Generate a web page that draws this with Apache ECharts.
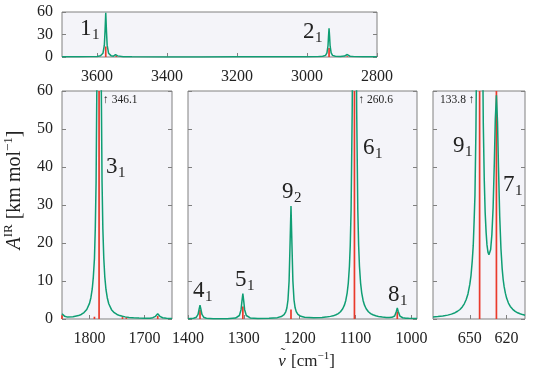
<!DOCTYPE html>
<html>
<head>
<meta charset="utf-8">
<script src="https://cdn.jsdelivr.net/npm/echarts@6.0.0/dist/echarts.min.js"></script>
<style>
  html, body { margin: 0; padding: 0; background: #fff; }
  #chart { width: 544px; height: 374px; }
</style>
</head>
<body>
<div id="chart"></div>
<script>
// tick values of each panel
const topTicks = [2800, 3000, 3200, 3400, 3600];
const leftTicks = [1700, 1800];
const midTicks = [1000, 1100, 1200, 1300, 1400];
const rightTicks = [620, 650];

// broadened IR spectrum (green), [wavenumber, intensity]
const topCurve = [
  [3700, 0.3], [3650, 0.35], [3620, 0.5], [3600, 0.8], [3590, 1.6], [3583, 4.9], [3579, 15.7], [3577, 35], [3575, 59],
  [3573, 35], [3571, 15.8], [3567, 5.1], [3560, 1.8], [3553, 1.1], [3549, 1.7], [3547, 3.1], [3545, 4.9], [3543, 3.0],
  [3541, 1.5], [3537, 0.6], [3525, 0.3], [3500, 0.2], [3400, 0.15], [3300, 0.15], [3200, 0.2], [3110, 0.25],
  [3092, 0.5], [3087, 0.9], [3082, 0.5], [3060, 0.25], [3000, 0.3], [2970, 0.5], [2955, 0.9], [2947, 2.2],
  [2943, 5.4], [2940, 15], [2938.5, 27.6], [2937, 38.2], [2935.5, 27.6], [2934, 15], [2931, 5.4], [2927, 2.2],
  [2919, 1.0], [2905, 0.8], [2893, 1.2], [2888, 2.5], [2885, 3.3], [2882, 2.4], [2877, 1.0], [2865, 0.5], [2840, 0.3], [2800, 0.2]
];
const leftCurve = [
  [1850, 1.4], [1848, 1.1], [1845, 0.7], [1840, 0.5], [1830, 0.6], [1820, 0.9], [1815, 1.2], [1810, 1.7], [1805, 2.5],
  [1800, 4.1], [1797.5, 5.6], [1795, 7.9], [1793, 11.1], [1791, 15.9], [1789.5, 23.7], [1788, 36.2], [1786, 72.9],
  [1782.6, 218], [1779.2, 72.9], [1777.2, 36.2], [1775.7, 23.7], [1774, 15.9], [1772.2, 11.1], [1770, 7.7],
  [1767.7, 5.6], [1765, 4.0], [1760, 2.45], [1755, 1.65], [1750, 1.19], [1745, 0.9], [1740, 0.7], [1735, 0.56],
  [1728, 0.42], [1720, 0.32], [1710, 0.25], [1700, 0.2], [1690, 0.22], [1685, 0.35], [1680, 0.7], [1676, 1.4],
  [1672, 0.7], [1667, 0.33], [1660, 0.18], [1650, 0.12]
];
const midCurve = [
  [1400, 0.07], [1390, 0.18], [1385, 0.47], [1382, 1.19], [1380, 2.63], [1378.5, 3.63], [1377, 2.63], [1375, 1.19], [1372, 0.47],
  [1367, 0.19], [1355, 0.08], [1330, 0.09], [1315, 0.26], [1308, 0.92], [1305, 2.45], [1303.3, 4.85], [1301.8, 6.7],
  [1300.3, 4.85], [1298.6, 2.45], [1295.6, 0.92], [1288.6, 0.28], [1275, 0.14], [1255, 0.18], [1240, 0.36], [1233, 0.65],
  [1228, 1.16], [1225, 1.9], [1223, 2.9], [1221, 5.0], [1219, 10.0], [1217.5, 18.4], [1215.6, 29.7], [1213.7, 18.4],
  [1212.2, 10.0], [1210.2, 5.0], [1208.2, 2.95], [1206.2, 1.93], [1203.2, 1.2], [1198, 0.72], [1191.2, 0.44], [1175, 0.33],
  [1160, 0.42], [1150, 0.57], [1145, 0.69], [1140, 0.83], [1135, 1.12], [1131, 1.42], [1127, 1.9], [1123, 2.69],
  [1120, 3.64], [1117.5, 4.88], [1115, 6.9], [1113, 9.46], [1111, 13.8], [1109.5, 19.4], [1108, 28.7], [1106, 55],
  [1105, 81], [1102, 207], [1099, 81], [1098, 55], [1096, 28.7], [1094.5, 19.4], [1093, 13.8], [1091, 9.46], [1089, 6.9],
  [1086.5, 4.88], [1084, 3.64], [1081, 2.69], [1077, 1.9], [1073, 1.43], [1069, 1.11], [1064, 0.84], [1059, 0.67],
  [1052, 0.5], [1045, 0.41], [1040, 0.4], [1035, 0.44], [1030, 0.8], [1027, 2.0], [1025.3, 2.9], [1023.6, 2.0],
  [1020.6, 0.77], [1015.6, 0.33], [1010, 0.22], [1005, 0.17], [990, 0.11]
];
const rightCurve = [
  [680, 0.51], [676, 0.63], [672, 0.79], [668, 1.02], [665, 1.29], [662, 1.65], [660, 2.04], [658, 2.5], [656, 3.24],
  [654.5, 4.0], [653, 5.06], [651.5, 6.6], [650, 9.1], [649, 11.5], [648, 15.3], [647.2, 19.3], [646.5, 25.6],
  [645.8, 32.5], [645, 49.8], [644, 87.3], [643, 161], [642, 225], [641, 162], [640, 88.3], [639, 51.4],
  [638.2, 36.5], [637.5, 28.2], [636.7, 22.8], [636, 19.5], [635.2, 17.6], [634.4, 16.9], [633.7, 17.1], [633, 18.3],
  [632, 22.2], [631, 29.3], [630, 41.2], [629.2, 52.6], [628.3, 58.9], [627.4, 51.8], [626.6, 39.7], [625.6, 26.9],
  [624.6, 18.5], [623.6, 13.2], [622.8, 10.4], [622, 8.5], [621, 6.8], [620, 5.5], [618.5, 4.2], [617, 3.3],
  [615, 2.55], [613, 2.0], [611, 1.63], [609, 1.37], [607, 1.16], [605, 1.0]
];

// stick spectrum (red), [wavenumber, intensity]
const topSticks = [[3575, 14], [3545, 1.5], [2937, 12], [2885, 1]];
const leftSticks = [[1850, 1], [1791, 0.6], [1782.6, 346.1], [1740, 0.5], [1733, 0.5], [1676, 0.8]];
const midSticks = [[1378.5, 2.4], [1301.8, 3.3], [1215.6, 2.5], [1102, 260.6], [1025.3, 2.0]];
const rightSticks = [[642, 133.8], [628.3, 90]];

const GREEN = '#0f9e74';
const RED = '#ea3a2c';
const FRAME = '#808080';
const BG = '#f4f4f9';
const FONT = 'Liberation Serif';
const INK = '#222';

var chartDom = document.getElementById('chart');
var myChart = echarts.init(chartDom);

// panels: [left, top, width, height, xmin, xmax, ticks, curve, sticks, yInterval]
var panels = [
  [62, 12, 315, 45, 2800, 3700, topTicks, topCurve, topSticks, 30],
  [62, 91, 110, 228, 1650, 1850, leftTicks, leftCurve, leftSticks, 10],
  [188, 91, 229, 228, 990, 1400, midTicks, midCurve, midSticks, 10],
  [433, 91, 92, 228, 605, 680, rightTicks, rightCurve, rightSticks, 10]
];

// red stick drawn through the axis scales, cut at the top of the plot
function renderStick(params, api) {
  var base = api.coord([api.value(0), 0]);
  var top = api.coord([api.value(0), api.value(1)]);
  var cs = params.coordSys;
  return {
    type: 'line',
    shape: { x1: base[0], y1: base[1], x2: base[0], y2: Math.max(top[1], cs.y) },
    style: { stroke: RED, lineWidth: 1.7 }
  };
}

function plainNumber(v) {
  return String(v);
}

var grid = [], xAxis = [], yAxis = [], series = [];
panels.forEach(function (p, i) {
  grid.push({
    left: p[0], top: p[1], width: p[2], height: p[3],
    show: true, backgroundColor: BG, borderColor: FRAME, borderWidth: 1
  });
  xAxis.push({
    gridIndex: i, type: 'value', inverse: true, min: p[4], max: p[5],
    axisLine: { show: false },
    axisTick: { inside: true, length: 4, customValues: p[6], lineStyle: { color: FRAME } },
    axisLabel: { customValues: p[6], formatter: plainNumber, fontFamily: FONT, fontSize: 16, color: INK, margin: 12 },
    splitLine: { show: false }
  });
  series.push({
    type: 'custom', xAxisIndex: i, yAxisIndex: i, data: p[8],
    renderItem: renderStick, silent: true, z: 2
  });
  series.push({
    type: 'line', xAxisIndex: i, yAxisIndex: i, data: p[7],
    showSymbol: false, symbol: 'none', clip: true, silent: true, z: 3,
    lineStyle: { color: GREEN, width: 1.5 }
  });
});
// left and right (mirror) y axes
[0, 1].forEach(function (side) {
  panels.forEach(function (p, i) {
    var showLabel = side === 0 && (i === 0 || i === 1);
    yAxis.push({
      gridIndex: i, type: 'value', min: 0, max: 60, interval: p[9],
      position: side === 0 ? 'left' : 'right',
      axisLine: { show: false },
      axisTick: { show: true, inside: true, length: 4, lineStyle: { color: FRAME } },
      axisLabel: { show: showLabel, formatter: plainNumber, fontFamily: FONT, fontSize: 16, color: INK, margin: 9 },
      splitLine: { show: false }
    });
  });
});

var option = {
  animation: false,
  backgroundColor: '#fff',
  grid: grid,
  xAxis: xAxis,
  yAxis: yAxis,
  series: series
};
myChart.setOption(option);

// peak assignment labels: [number, subscript, left x, baseline y]
var peakLabels = [
  ['1', '1', 80, 36], ['2', '1', 303, 39], ['3', '1', 106, 174], ['4', '1', 193, 298],
  ['5', '1', 235, 287], ['9', '2', 282, 199], ['6', '1', 363, 155], ['8', '1', 388, 302],
  ['9', '1', 453, 153], ['7', '1', 503, 192]
];
var elements = [];
peakLabels.forEach(function (l) {
  elements.push({
    type: 'text', x: l[2], y: l[3] - 7, silent: true,
    style: { text: l[0], fontFamily: FONT, fontSize: 23, fill: INK, align: 'left', verticalAlign: 'middle' }
  });
  elements.push({
    type: 'text', x: l[2] + 12, y: l[3] - 1, silent: true,
    style: { text: l[1], fontFamily: FONT, fontSize: 15, fill: INK, align: 'left', verticalAlign: 'middle' }
  });
});

// off-scale peaks: arrow and value next to the stick
[[1, leftSticks[2], 1], [2, midSticks[3], 1], [3, rightSticks[0], -1]].forEach(function (a) {
  var pt = myChart.convertToPixel({ xAxisIndex: a[0], yAxisIndex: a[0] }, [a[1][0], 60]);
  var val = a[1][1].toFixed(1);
  elements.push({
    type: 'text', x: pt[0] + (a[2] > 0 ? 4 : -5), y: pt[1] + 9, silent: true,
    style: {
      text: a[2] > 0 ? '\u2191 ' + val : val + ' \u2191',
      fontFamily: FONT, fontSize: 11.5, fill: INK,
      align: a[2] > 0 ? 'left' : 'right', verticalAlign: 'middle'
    }
  });
});

// y axis title
elements.push({
  type: 'text', x: 15, y: 190, rotation: Math.PI / 2, silent: true,
  style: {
    text: '{i|A}{s|IR} [km mol{s|\u22121}]',
    fontFamily: FONT, fontSize: 20, fill: INK, align: 'center', verticalAlign: 'middle', lineHeight: 26,
    rich: {
      i: { fontFamily: FONT, fontSize: 20, fontStyle: 'italic', lineHeight: 26 },
      s: { fontFamily: FONT, fontSize: 13, verticalAlign: 'top', lineHeight: 14 }
    }
  }
});
// x axis title: tilde nu, then unit
elements.push({
  type: 'text', x: 282, y: 362, silent: true,
  style: { text: '\u03bd', fontFamily: FONT, fontSize: 17, fontStyle: 'italic', fill: INK, align: 'center', verticalAlign: 'middle' }
});
elements.push({
  type: 'text', x: 283, y: 354, silent: true,
  style: { text: '\u02dc', fontFamily: FONT, fontSize: 15, fill: INK, align: 'center', verticalAlign: 'middle' }
});
elements.push({
  type: 'text', x: 291, y: 362, silent: true,
  style: {
    text: '[cm{s|\u22121}]',
    fontFamily: FONT, fontSize: 17, fill: INK, align: 'left', verticalAlign: 'middle', lineHeight: 22,
    rich: {
      s: { fontFamily: FONT, fontSize: 11, verticalAlign: 'top', lineHeight: 12 }
    }
  }
});

myChart.setOption({ graphic: elements });
</script>
</body>
</html>
